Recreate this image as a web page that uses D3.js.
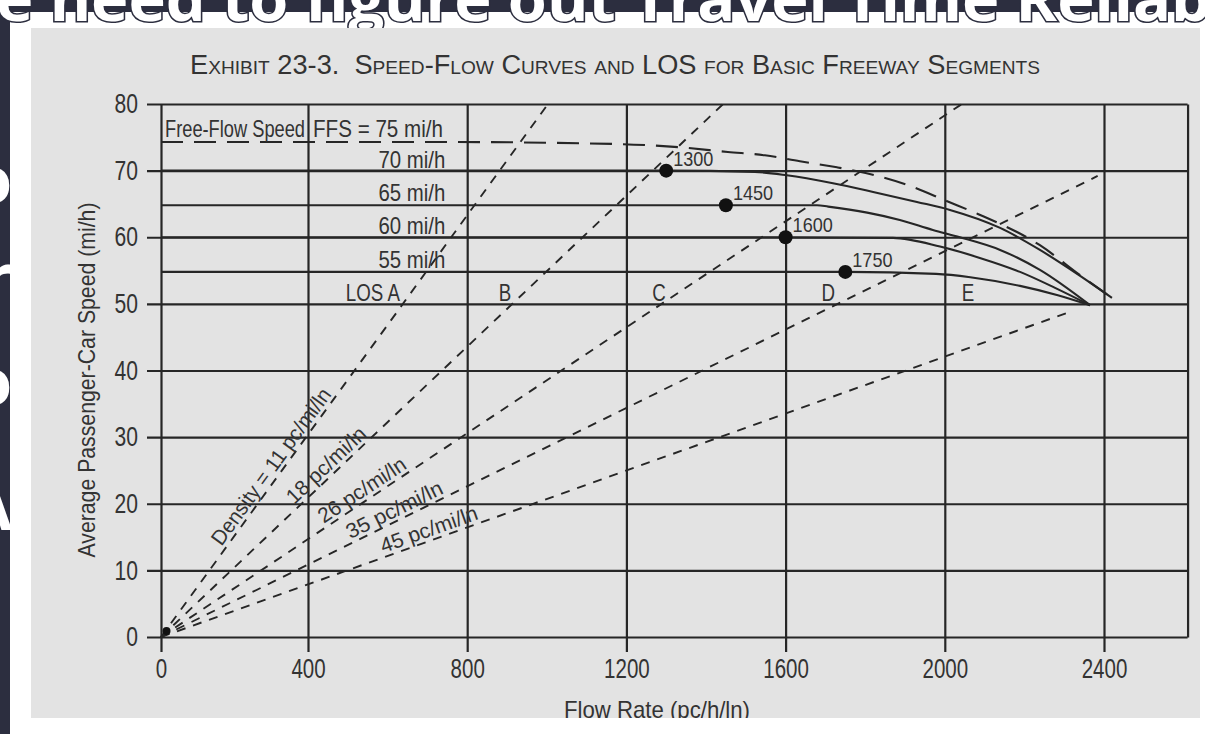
<!DOCTYPE html>
<html>
<head>
<meta charset="utf-8">
<script src="https://cdn.jsdelivr.net/npm/d3@7"></script>
<style>
  body { margin: 0; background: #fff; }
  svg { display: block; }
</style>
</head>
<body>
<div id="chart"></div>
<script>
// axis ticks
const xTicks = [0, 400, 800, 1200, 1600, 2000, 2400];
const yTicks = [0, 10, 20, 30, 40, 50, 60, 70, 80];

// speed-flow curves [flow pc/h/ln, speed mi/h]
const ffs75 = [[0, 74.3], [732, 74.3], [1171, 74.0], [1335, 73.5], [1455, 72.8], [1548, 72.3], [1636, 71.4], [1729, 70.5], [1825, 69.3], [1913, 67.7], [2006, 65.4], [2083, 63.5], [2239, 58.8], [2340, 54.3], [2420, 50.9]];
const ffs70 = [[0, 70], [1300, 70], [1523, 69.8], [1603, 69.3], [1719, 68.1], [1820, 66.8], [1930, 65.3], [2013, 64.1], [2139, 61.4], [2239, 58.1], [2340, 54.2], [2420, 50.9]];
const ffs65 = [[0, 64.8], [1450, 64.8], [1679, 64.8], [1707, 64.6], [1805, 63.7], [1887, 62.6], [1970, 61.1], [2038, 60.0], [2139, 58.1], [2239, 55.1], [2365, 49.8]];
const ffs60 = [[0, 60], [1600, 60], [1870, 59.9], [1988, 58.6], [2088, 56.9], [2189, 54.8], [2277, 52.4], [2365, 49.8]];
const ffs55 = [[0, 54.8], [1750, 54.8], [1978, 54.5], [2064, 54.0], [2189, 52.7], [2284, 51.3], [2365, 49.8]];

// breakpoints where the curves leave the free-flow speed
const breakFlow = [1300, 1450, 1600, 1750];
const breakSpeed = [70, 64.8, 60, 54.8];

// density lines (pc/mi/ln), each from the origin to its end point
const densities = [11, 18, 26, 35, 45];
const densityEnds = [[1003, 80], [1443, 80], [2043, 80], [2384, 69.2], [2314, 48.8]];
const originDot = [15, 0.9];

const speedLabels = ["70 mi/h", "65 mi/h", "60 mi/h", "55 mi/h"];
const speedLabelAt = [70, 65, 60, 55];
const losLabels = ["LOS A", "B", "C", "D", "E"];

const W = 1205, H = 734;
const FONT = '"Liberation Sans", Arial, sans-serif';
const INK = "#262626";
const xEdge = 2610;   // right border of the grid box

// the scanned exhibit is a little squeezed between 0 and 400
const x = d3.scaleLinear().domain([0, 400, 2400]).range([161, 308, 1104]);
const y = d3.scaleLinear().domain([0, 80]).range([637, 104]);

// squeeze text to look like the condensed face of the exhibit
function squeeze(sel, k) {
    sel.each(function () {
        const w = this.getComputedTextLength();
        d3.select(this).attr("textLength", w * k).attr("lengthAdjust", "spacingAndGlyphs");
    });
}

const svg = d3.select("#chart").append("svg").attr("width", W).attr("height", H);

// slide behind the picture
svg.append("rect").attr("width", W).attr("height", H).attr("fill", "#fff");
svg.append("rect").attr("width", W).attr("height", 12).attr("fill", "#2c2e3f");
svg.append("rect").attr("width", 10).attr("height", H).attr("fill", "#2c2e3f");

svg.append("text")
    .attr("x", -4).attr("y", 21)
    .attr("textLength", 1215).attr("lengthAdjust", "spacingAndGlyphs")
    .style("font-family", '"Open Sans", sans-serif').style("font-weight", 700).style("font-size", "60px")
    .attr("fill", "#fff").attr("stroke", "#2c2e3f").attr("stroke-width", 3).style("paint-order", "stroke")
    .text("e need to figure out Travel Time Reliab");

svg.append("clipPath").attr("id", "strip").append("rect").attr("width", 10).attr("height", H);
svg.append("g").attr("clip-path", "url(#strip)")
    .selectAll("text").data([["o", 203], ["r", 300], ["o", 405], ["A", 530]]).enter()
    .append("text")
    .attr("x", 12).attr("y", d => d[1])
    .attr("text-anchor", "end")
    .style("font-family", '"Open Sans", sans-serif').style("font-weight", 700).style("font-size", "64px")
    .attr("fill", "#fff")
    .text(d => d[0]);

// grey scan of the exhibit
svg.append("rect").attr("x", 31).attr("y", 28).attr("width", 1169).attr("height", 690).attr("fill", "#e3e3e3");

// title, small caps
svg.append("text")
    .attr("x", 190).attr("y", 74)
    .attr("textLength", 850).attr("lengthAdjust", "spacingAndGlyphs")
    .style("font-family", FONT).style("font-size", "27px").style("font-variant", "small-caps")
    .style("white-space", "pre")
    .attr("fill", "#333")
    .text("Exhibit 23-3.  Speed-Flow Curves and LOS for Basic Freeway Segments");

// y grid + labels, domain path is the right border
const gy = svg.append("g")
    .attr("transform", `translate(${x(xEdge)},0)`)
    .call(d3.axisLeft(y).tickValues(yTicks).tickSize(x(xEdge) - 147).tickSizeOuter(0).tickPadding(9));
gy.attr("font-family", FONT).attr("font-size", 27);
gy.selectAll("line, path").attr("stroke", INK).attr("stroke-width", 2.2);
gy.selectAll("text").attr("fill", "#333");
squeeze(gy.selectAll("text"), 0.78);

// x grid + labels
const gx = svg.append("g")
    .attr("transform", `translate(0,${y(80)})`)
    .call(d3.axisBottom(x).tickValues(xTicks).tickFormat(d3.format("d"))
        .tickSize(652 - y(80)).tickSizeOuter(0).tickPadding(7));
gx.select(".domain").remove();
gx.attr("font-family", FONT).attr("font-size", 27);
gx.selectAll("line").attr("stroke", INK).attr("stroke-width", 2.2);
gx.selectAll("text").attr("fill", "#333");
squeeze(gx.selectAll("text"), 0.76);

// density lines
const dens = svg.append("g");
densityEnds.forEach((end, i) => {
    dens.append("path")
        .attr("d", d3.line().x(d => x(d[0])).y(d => y(d[1]))([[0, 0], end]))
        .attr("fill", "none").attr("stroke", INK).attr("stroke-width", 1.9)
        .attr("stroke-dasharray", "9,8");
});
svg.append("circle")
    .attr("cx", x(originDot[0])).attr("cy", y(originDot[1])).attr("r", 4)
    .attr("fill", "#111");

// density labels, laid along their lines
const labelStart = [0.165, 0.242, 0.206, 0.204, 0.246];
const labelLen = [188, 101, 101, 105, 102];
densityEnds.forEach((end, i) => {
    const x0 = x(0), y0 = y(0), x1 = x(end[0]), y1 = y(end[1]);
    const a = Math.atan2(y1 - y0, x1 - x0);
    const t = labelStart[i];
    const px = x0 + t * (x1 - x0) + 4 * Math.sin(a);
    const py = y0 + t * (y1 - y0) - 4 * Math.cos(a);
    dens.append("text")
        .attr("transform", `translate(${px},${py}) rotate(${a * 180 / Math.PI})`)
        .attr("textLength", labelLen[i]).attr("lengthAdjust", "spacingAndGlyphs")
        .style("font-family", FONT).style("font-size", "21px")
        .attr("fill", "#333")
        .text((i === 0 ? "Density = " : "") + densities[i] + " pc/mi/ln");
});

// speed-flow curves
const curve = d3.line().x(d => x(d[0])).y(d => y(d[1])).curve(d3.curveMonotoneX);
[ffs70, ffs65, ffs60, ffs55].forEach(c => {
    svg.append("path").attr("d", curve(c))
        .attr("fill", "none").attr("stroke", INK).attr("stroke-width", 2.1);
});
svg.append("path").attr("d", curve(ffs75))
    .attr("fill", "none").attr("stroke", INK).attr("stroke-width", 2.1)
    .attr("stroke-dasharray", "22,11");

// breakpoints
svg.append("g").selectAll("circle").data(breakFlow).enter()
    .append("circle")
    .attr("cx", d => x(d)).attr("cy", (d, i) => y(breakSpeed[i])).attr("r", 7)
    .attr("fill", "#111");
const bl = svg.append("g").selectAll("text").data(breakFlow).enter()
    .append("text")
    .attr("x", d => x(d) + 7).attr("y", (d, i) => y(breakSpeed[i]) - 5)
    .style("font-family", FONT).style("font-size", "21px")
    .attr("fill", "#333")
    .text(d => d);
squeeze(bl, 0.86);

// free-flow speed labels
const inPlot = svg.append("g").style("font-family", FONT).style("font-size", "24px").attr("fill", "#333");
inPlot.append("text").attr("x", 165).attr("y", 137)
    .attr("textLength", 140).attr("lengthAdjust", "spacingAndGlyphs")
    .text("Free-Flow Speed");
inPlot.append("text").attr("x", 313).attr("y", 137)
    .attr("textLength", 130).attr("lengthAdjust", "spacingAndGlyphs")
    .text("FFS = 75 mi/h");
const sl = inPlot.selectAll(".spd").data(speedLabels).enter()
    .append("text").attr("class", "spd")
    .attr("x", x(745)).attr("y", (d, i) => y(speedLabelAt[i]) - 3)
    .attr("text-anchor", "end")
    .text(d => d);
squeeze(sl, 0.85);

// LOS letters
const losFlow = [563, 895, 1282, 1707, 2058];
const ll = inPlot.selectAll(".los").data(losLabels).enter()
    .append("text").attr("class", "los")
    .attr("x", (d, i) => x(losFlow[i])).attr("y", y(50) - 3)
    .attr("text-anchor", "middle")
    .text(d => d);
squeeze(ll, 0.78);

// axis titles
svg.append("text")
    .attr("transform", `translate(95,380) rotate(-90)`)
    .attr("text-anchor", "middle")
    .attr("textLength", 355).attr("lengthAdjust", "spacingAndGlyphs")
    .style("font-family", FONT).style("font-size", "24px")
    .attr("fill", "#333")
    .text("Average Passenger-Car Speed (mi/h)");
svg.append("text")
    .attr("x", 657).attr("y", 718)
    .attr("text-anchor", "middle")
    .attr("textLength", 186).attr("lengthAdjust", "spacingAndGlyphs")
    .style("font-family", FONT).style("font-size", "24px")
    .attr("fill", "#333")
    .text("Flow Rate (pc/h/ln)");

// slide below the picture cuts the x title
svg.append("rect").attr("x", 10).attr("y", 718).attr("width", W - 10).attr("height", H - 718).attr("fill", "#fff");
</script>
</body>
</html>
